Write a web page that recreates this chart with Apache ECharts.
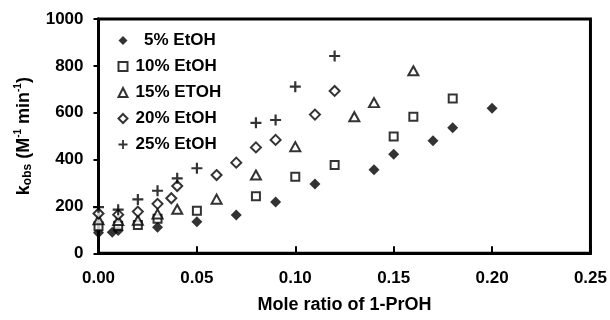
<!DOCTYPE html>
<html>
<head>
<meta charset="utf-8">
<script src="https://cdn.jsdelivr.net/npm/echarts@6/dist/echarts.min.js"></script>
<style>html,body{margin:0;padding:0;background:#fff}#c{width:610px;height:320px}</style>
</head>
<body>
<div id="c"></div>
<script>
const seriesNames = ['5% EtOH', '10% EtOH', '15% ETOH', '20% EtOH', '25% EtOH'];
const xTicks = [0, 0.05, 0.10, 0.15, 0.20, 0.25];
const yTicks = [0, 200, 400, 600, 800, 1000];

const x5 = [0, 0.007, 0.01, 0.03, 0.05, 0.07, 0.09, 0.11, 0.14, 0.15, 0.17, 0.18, 0.20];
const y5 = [88, 90, 97, 111, 135, 163, 219, 296, 357, 423, 480, 536, 619];

const x10 = [0, 0.01, 0.02, 0.03, 0.05, 0.08, 0.10, 0.12, 0.15, 0.16, 0.18];
const y10 = [115, 118, 121, 147, 182, 243, 327, 377, 498, 583, 661];

const x15 = [0, 0.01, 0.02, 0.03, 0.04, 0.06, 0.08, 0.10, 0.13, 0.14, 0.16];
const y15 = [143, 140, 141, 168, 188, 231, 334, 455, 583, 643, 779];

const x20 = [0, 0.01, 0.02, 0.03, 0.037, 0.04, 0.06, 0.07, 0.08, 0.09, 0.11, 0.12];
const y20 = [170, 165, 178, 211, 235, 287, 334, 387, 452, 484, 592, 693];

const x25 = [0, 0.01, 0.02, 0.03, 0.04, 0.05, 0.08, 0.09, 0.10, 0.12];
const y25 = [197, 186, 230, 267, 320, 363, 557, 569, 711, 842];

const FONT = '"Liberation Sans", Arial, sans-serif';
const pair = (xs, ys) => xs.map((x, i) => [x, ys[i]]);
const plusPath = 'path://M4.0,0H6.0V4.0H10V6.0H6.0V10H4.0V6.0H0V4.0H4.0Z';

const openStyle = { color: '#fff', borderColor: '#000', borderWidth: 2 };
const symbols = ['diamond', 'rect', 'triangle', 'diamond', plusPath];
const styles = [{ color: '#000', borderWidth: 0 }, openStyle, openStyle, openStyle, { color: '#000', borderWidth: 0 }];

const chart = echarts.init(document.getElementById('c'));
chart.setOption({
  animation: false,
  grid: { left: 98.5, right: 18.5, top: 19, bottom: 66.7 },
  legend: {
    orient: 'vertical', left: 112.5, top: 27, itemWidth: 9, itemHeight: 9, itemGap: 9,
    data: seriesNames.map((n, i) => ({ name: n, icon: symbols[i], itemStyle: styles[i] })),
    formatter: n => (n === seriesNames[0] ? '\u2002' + n : n),
    textStyle: { fontFamily: FONT, fontWeight: 'bold', fontSize: 17, color: '#000', padding: [0, 0, 0, 3] }
  },
  xAxis: {
    type: 'value', min: 0, max: 0.25, interval: 0.05,
    name: 'Mole ratio of 1-PrOH', nameLocation: 'middle', nameGap: 43,
    nameTextStyle: { fontFamily: FONT, fontWeight: 'bold', fontSize: 18, color: '#000' },
    axisLine: { show: true, onZero: false, lineStyle: { color: '#000', width: 3 } },
    axisTick: { inside: true, length: 7, lineStyle: { color: '#000', width: 2 } },
    axisLabel: { margin: 17, fontFamily: FONT, fontWeight: 'bold', fontSize: 17, color: '#000',
      formatter: v => xTicks.includes(+v.toFixed(2)) ? v.toFixed(2) : '' },
    splitLine: { show: false }
  },
  yAxis: {
    type: 'value', min: 0, max: 1000, interval: 200,
    name: '{n|k}{sub|obs}{n| (M}{sup|-1}{n| min}{sup|-1}{n|)}',
    nameLocation: 'middle', nameGap: 59, nameRotate: 90,
    nameTextStyle: {
      fontFamily: FONT, fontWeight: 'bold', fontSize: 18, color: '#000',
      rich: {
        n: { fontFamily: FONT, fontWeight: 'bold', fontSize: 18, color: '#000', lineHeight: 22, verticalAlign: 'middle' },
        sub: { fontFamily: FONT, fontWeight: 'bold', fontSize: 12, color: '#000', verticalAlign: 'bottom', lineHeight: 22, padding: [0, 0, 1, 0] },
        sup: { fontFamily: FONT, fontWeight: 'bold', fontSize: 10, color: '#000', verticalAlign: 'top', lineHeight: 22 }
      }
    },
    axisLine: { show: true, onZero: false, lineStyle: { color: '#000', width: 3 } },
    axisTick: { inside: false, length: 5, lineStyle: { color: '#000', width: 2 } },
    axisLabel: { margin: 15, fontFamily: FONT, fontWeight: 'bold', fontSize: 17, color: '#000',
      formatter: v => yTicks.includes(v) ? String(v) : '' },
    splitLine: { show: false }
  },
  series: [
    {
      name: 'frame', type: 'custom', clip: false, silent: true, z: 1,
      data: [[xTicks[0], yTicks[0]]],
      renderItem: (params, api) => {
        const a = api.coord([xTicks[0], yTicks[yTicks.length - 1]]);
        const b = api.coord([xTicks[xTicks.length - 1], yTicks[0]]);
        return {
          type: 'rect',
          shape: { x: a[0], y: a[1], width: b[0] - a[0], height: b[1] - a[1] },
          style: { fill: null, stroke: '#000', lineWidth: 3 }
        };
      }
    },
    { name: seriesNames[0], type: 'scatter', symbol: symbols[0], symbolSize: 11, itemStyle: styles[0], data: pair(x5, y5) },
    { name: seriesNames[1], type: 'scatter', symbol: symbols[1], symbolSize: 8, itemStyle: styles[1], data: pair(x10, y10) },
    { name: seriesNames[2], type: 'scatter', symbol: symbols[2], symbolSize: [10, 9], itemStyle: styles[2], data: pair(x15, y15) },
    { name: seriesNames[3], type: 'scatter', symbol: symbols[3], symbolSize: 10, itemStyle: styles[3], data: pair(x20, y20) },
    { name: seriesNames[4], type: 'scatter', symbol: symbols[4], symbolSize: 11, itemStyle: styles[4], data: pair(x25, y25) }
  ]
});
</script>
</body>
</html>
